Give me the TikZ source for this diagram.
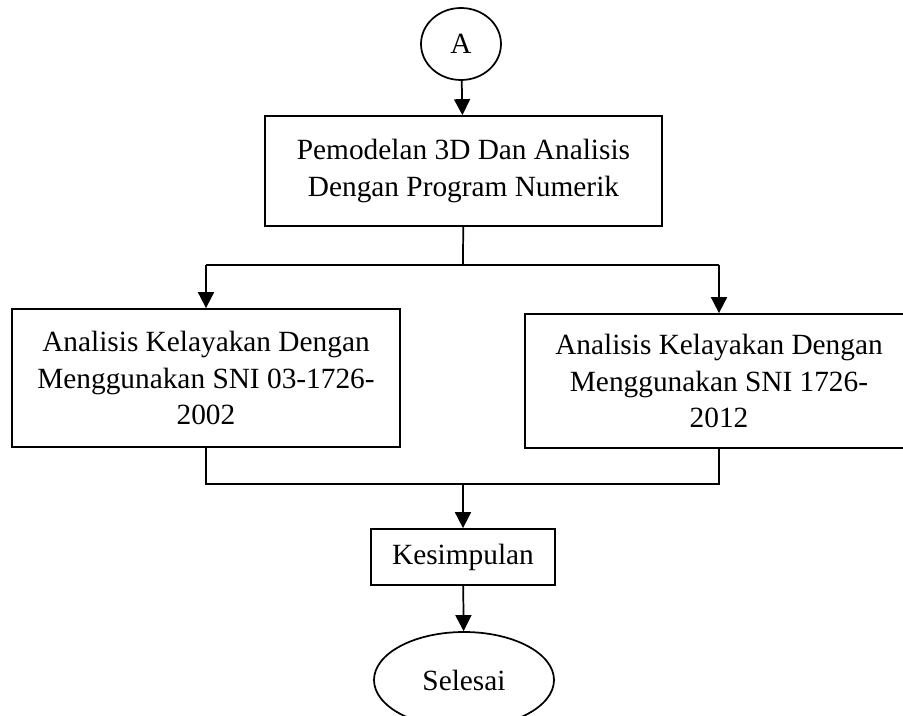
\documentclass[tikz,border=0pt]{standalone}
\usepackage{fontspec}
\setmainfont{Liberation Serif}
\usetikzlibrary{arrows.meta,shapes.geometric}

\begin{document}
\begin{tikzpicture}[x=0.75pt, y=-0.75pt, line width=1.3pt,
        >={Triangle[width=12pt,length=12pt]},
        kotak/.style={rectangle, draw, align=center, inner sep=0pt, font=\fontsize{22}{27.5}\selectfont},
        lonjong/.style={ellipse, draw, inner sep=0pt, font=\fontsize{22}{27.5}\selectfont}]
        \useasboundingbox (0,0) rectangle (903,716);
        \clip (0,0) rectangle (903,716);
        \node[lonjong, minimum width=60pt, minimum height=54pt] (a) at (461,44) {A};
        \node[kotak, minimum width=297.75pt, minimum height=82.5pt] (pemodelan) at (463.5,171) {Pemodelan 3D Dan Analisis\\Dengan Program Numerik};
        \node[kotak, minimum width=291pt, minimum height=103.5pt] (sni2002) at (206,378) {Analisis Kelayakan Dengan\\Menggunakan SNI 03-1726-\\2002};
        \node[kotak, minimum width=291pt, minimum height=100.5pt] (sni2012) at (719,381) {Analisis Kelayakan Dengan\\Menggunakan SNI 1726-\\2012};
        \node[kotak, minimum width=138pt, minimum height=42pt] (kesimpulan) at (463,557) {Kesimpulan};
        \node[lonjong, minimum width=135pt, minimum height=72pt] (selesai) at (464,680) {Selesai};
        \coordinate (bagi) at (463,265);
        \coordinate (bagikiri) at (206,265);
        \coordinate (bagikanan) at (719,265);
        \coordinate (gabung) at (463,484);
        \coordinate (gabungkanan) at (719,484);
        \draw[->] (a) -- (pemodelan);
        \draw (pemodelan) -- (bagi);
        \draw (bagikiri) -- (bagikanan);
        \draw[->] (bagikiri) -- (sni2002);
        \draw[->] (bagikanan) -- (sni2012);
        \draw (sni2002.south) |- (gabungkanan) -- (sni2012.south);
        \draw[->] (gabung) -- (kesimpulan);
        \draw[->] (kesimpulan) -- (selesai);
    \end{tikzpicture}
\end{document}
